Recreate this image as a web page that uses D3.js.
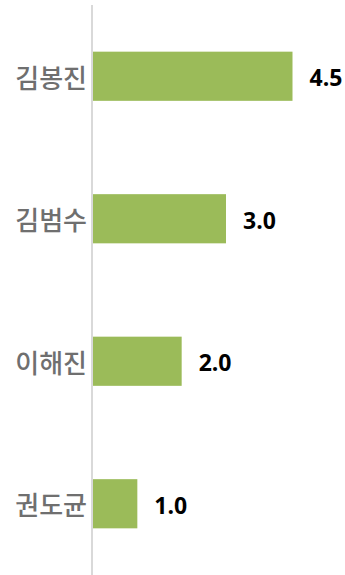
<!DOCTYPE html>
<html>
<head>
<meta charset="utf-8">
<script src="https://cdn.jsdelivr.net/npm/d3@7"></script>
<style>
  html, body { margin: 0; padding: 0; background: #fff; }
  svg { display: block; }
</style>
</head>
<body>
<svg id="chart" width="345" height="575"></svg>
<script>
// Names and scores, top to bottom
const names = ["김봉진", "김범수", "이해진", "권도균"];
const scores = [4.5, 3.0, 2.0, 1.0];

const width = 345, height = 575;
const axisX = 92;
const svg = d3.select("#chart");

const y = d3.scaleBand()
  .domain(names)
  .range([5, 575])
  .paddingInner(0.655)
  .paddingOuter(0.3275);

const x = d3.scaleLinear()
  .domain([0, 4.5])
  .range([axisX + 1, 292.5]);

// Bars
svg.selectAll("rect.bar")
  .data(names)
  .join("rect")
  .attr("class", "bar")
  .attr("x", x(0))
  .attr("y", d => y(d))
  .attr("width", (d, i) => x(scores[i]) - x(0))
  .attr("height", y.bandwidth())
  .attr("fill", "#9bbb59");

// Vertical category axis line
svg.append("line")
  .attr("x1", axisX).attr("x2", axisX)
  .attr("y1", 5).attr("y2", 575)
  .attr("stroke", "#d9d9d9")
  .attr("stroke-width", 2);

// Category labels
svg.selectAll("text.cat")
  .data(names)
  .join("text")
  .attr("class", "cat")
  .attr("x", 87)
  .attr("y", d => y(d) + y.bandwidth() / 2)
  .attr("text-anchor", "end")
  .attr("dominant-baseline", "central")
  .attr("font-family", "'Noto Sans CJK KR', sans-serif")
  .attr("font-size", 26)
  .attr("font-weight", 500)
  .attr("fill", "#6f6f6f")
  .text(d => d);

// Value labels
svg.selectAll("text.val")
  .data(names)
  .join("text")
  .attr("class", "val")
  .attr("x", (d, i) => x(scores[i]) + 17)
  .attr("y", d => y(d) + y.bandwidth() / 2 + 1)
  .attr("dominant-baseline", "central")
  .attr("font-family", "'Open Sans', sans-serif")
  .attr("font-size", 23)
  .attr("font-weight", "bold")
  .attr("fill", "#000")
  .text((d, i) => d3.format(".1f")(scores[i]));
</script>
</body>
</html>
